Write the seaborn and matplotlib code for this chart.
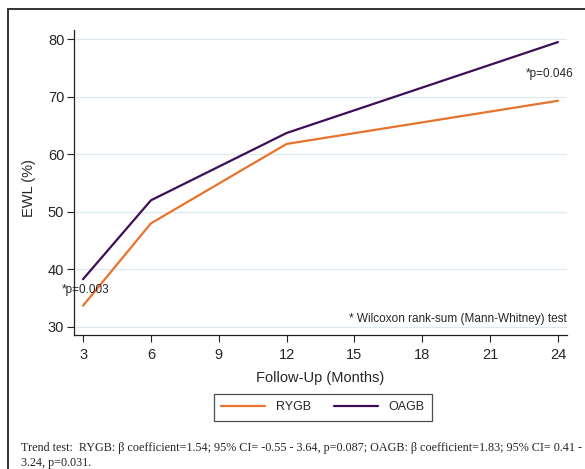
import pandas as pd
import seaborn as sns
import matplotlib.pyplot as plt
from matplotlib.patches import Rectangle

# Data
months = [3, 6, 12, 24]
rygb = [33.7, 48.0, 61.8, 69.3]
oagb = [38.3, 52.0, 63.7, 79.5]
groups = ['RYGB', 'OAGB']
colors = {'RYGB': '#E8732C', 'OAGB': '#3E0E55'}
x_ticks = [3, 6, 9, 12, 15, 18, 21, 24]
y_ticks = [30, 40, 50, 60, 70, 80]

df = pd.DataFrame({
    'month': months * 2,
    'ewl': rygb + oagb,
    'group': ['RYGB'] * len(months) + ['OAGB'] * len(months),
})

sns.set_style('white')
plt.rcParams['font.family'] = ['Liberation Sans', 'DejaVu Sans']

fig = plt.figure(figsize=(5.85, 4.69), dpi=100)
ax = fig.add_axes([74 / 585, 1 - 335 / 469, (567 - 74) / 585, (335 - 30) / 469])

sns.lineplot(data=df, x='month', y='ewl', hue='group', hue_order=groups,
             palette=colors, linewidth=1.6, ax=ax, legend=False)

ax.set_xlim(2.6, 24.4)
ax.set_ylim(28.6, 81.6)
ax.set_xticks(x_ticks)
ax.set_yticks(y_ticks)
ax.yaxis.grid(True, color='#dce9f1', linewidth=0.9)
ax.set_axisbelow(True)
for s in ['top', 'right']:
    ax.spines[s].set_visible(False)
for s in ['left', 'bottom']:
    ax.spines[s].set_color('#222222')
    ax.spines[s].set_linewidth(0.9)
ax.tick_params(axis='both', direction='out', length=5, width=0.8, color='#222222',
               labelsize=10.5, bottom=True, left=True)
ax.tick_params(axis='x', pad=4)
ax.tick_params(axis='y', pad=2)
ax.set_xlabel('Follow-Up (Months)', fontsize=10.5, labelpad=7)
ax.set_ylabel('EWL (%)', fontsize=10.5)
ax.yaxis.set_label_coords((36 - 74) / (567 - 74), (335 - 188) / (335 - 30))

ax.text(2.07, 36.4, '*p=0.003', fontsize=8.5, ha='left', va='center')
ax.text(24.67, 74.0, '*p=0.046', fontsize=8.5, ha='right', va='center', clip_on=False)
ax.text(24.4, 31.4, '* Wilcoxon rank-sum (Mann-Whitney) test', fontsize=8.5,
        ha='right', va='center')

# legend below the plot
handles = [plt.Line2D([], [], color=colors[g], linewidth=1.6) for g in groups]
leg = fig.legend(handles, groups, loc='center', bbox_to_anchor=(323 / 585, 1 - 407 / 469),
                 ncol=2, frameon=True, fancybox=False, fontsize=9, handlelength=3.5,
                 columnspacing=1.8, borderpad=0.6, handletextpad=0.9, borderaxespad=0)
leg.get_frame().set_edgecolor('#222222')
leg.get_frame().set_linewidth(0.9)

# outer frame
fig.patches.append(Rectangle((8 / 585, -0.1), 1.1, 1 - 9 / 469 + 0.1,
                             transform=fig.transFigure, fill=False,
                             edgecolor='#333333', linewidth=1.4))

caption = ('Trend test:  RYGB: \u03b2 coefficient=1.54; 95% CI= -0.55 - 3.64, p=0.087; '
           'OAGB: \u03b2 coefficient=1.83; 95% CI= 0.41 -\n3.24, p=0.031.')
fig.text(21 / 585, 1 - 455.5 / 469, caption, family='Liberation Serif', fontsize=8.7,
         ha='left', va='center', linespacing=1.3)

fig.savefig('out.png', dpi=100)
